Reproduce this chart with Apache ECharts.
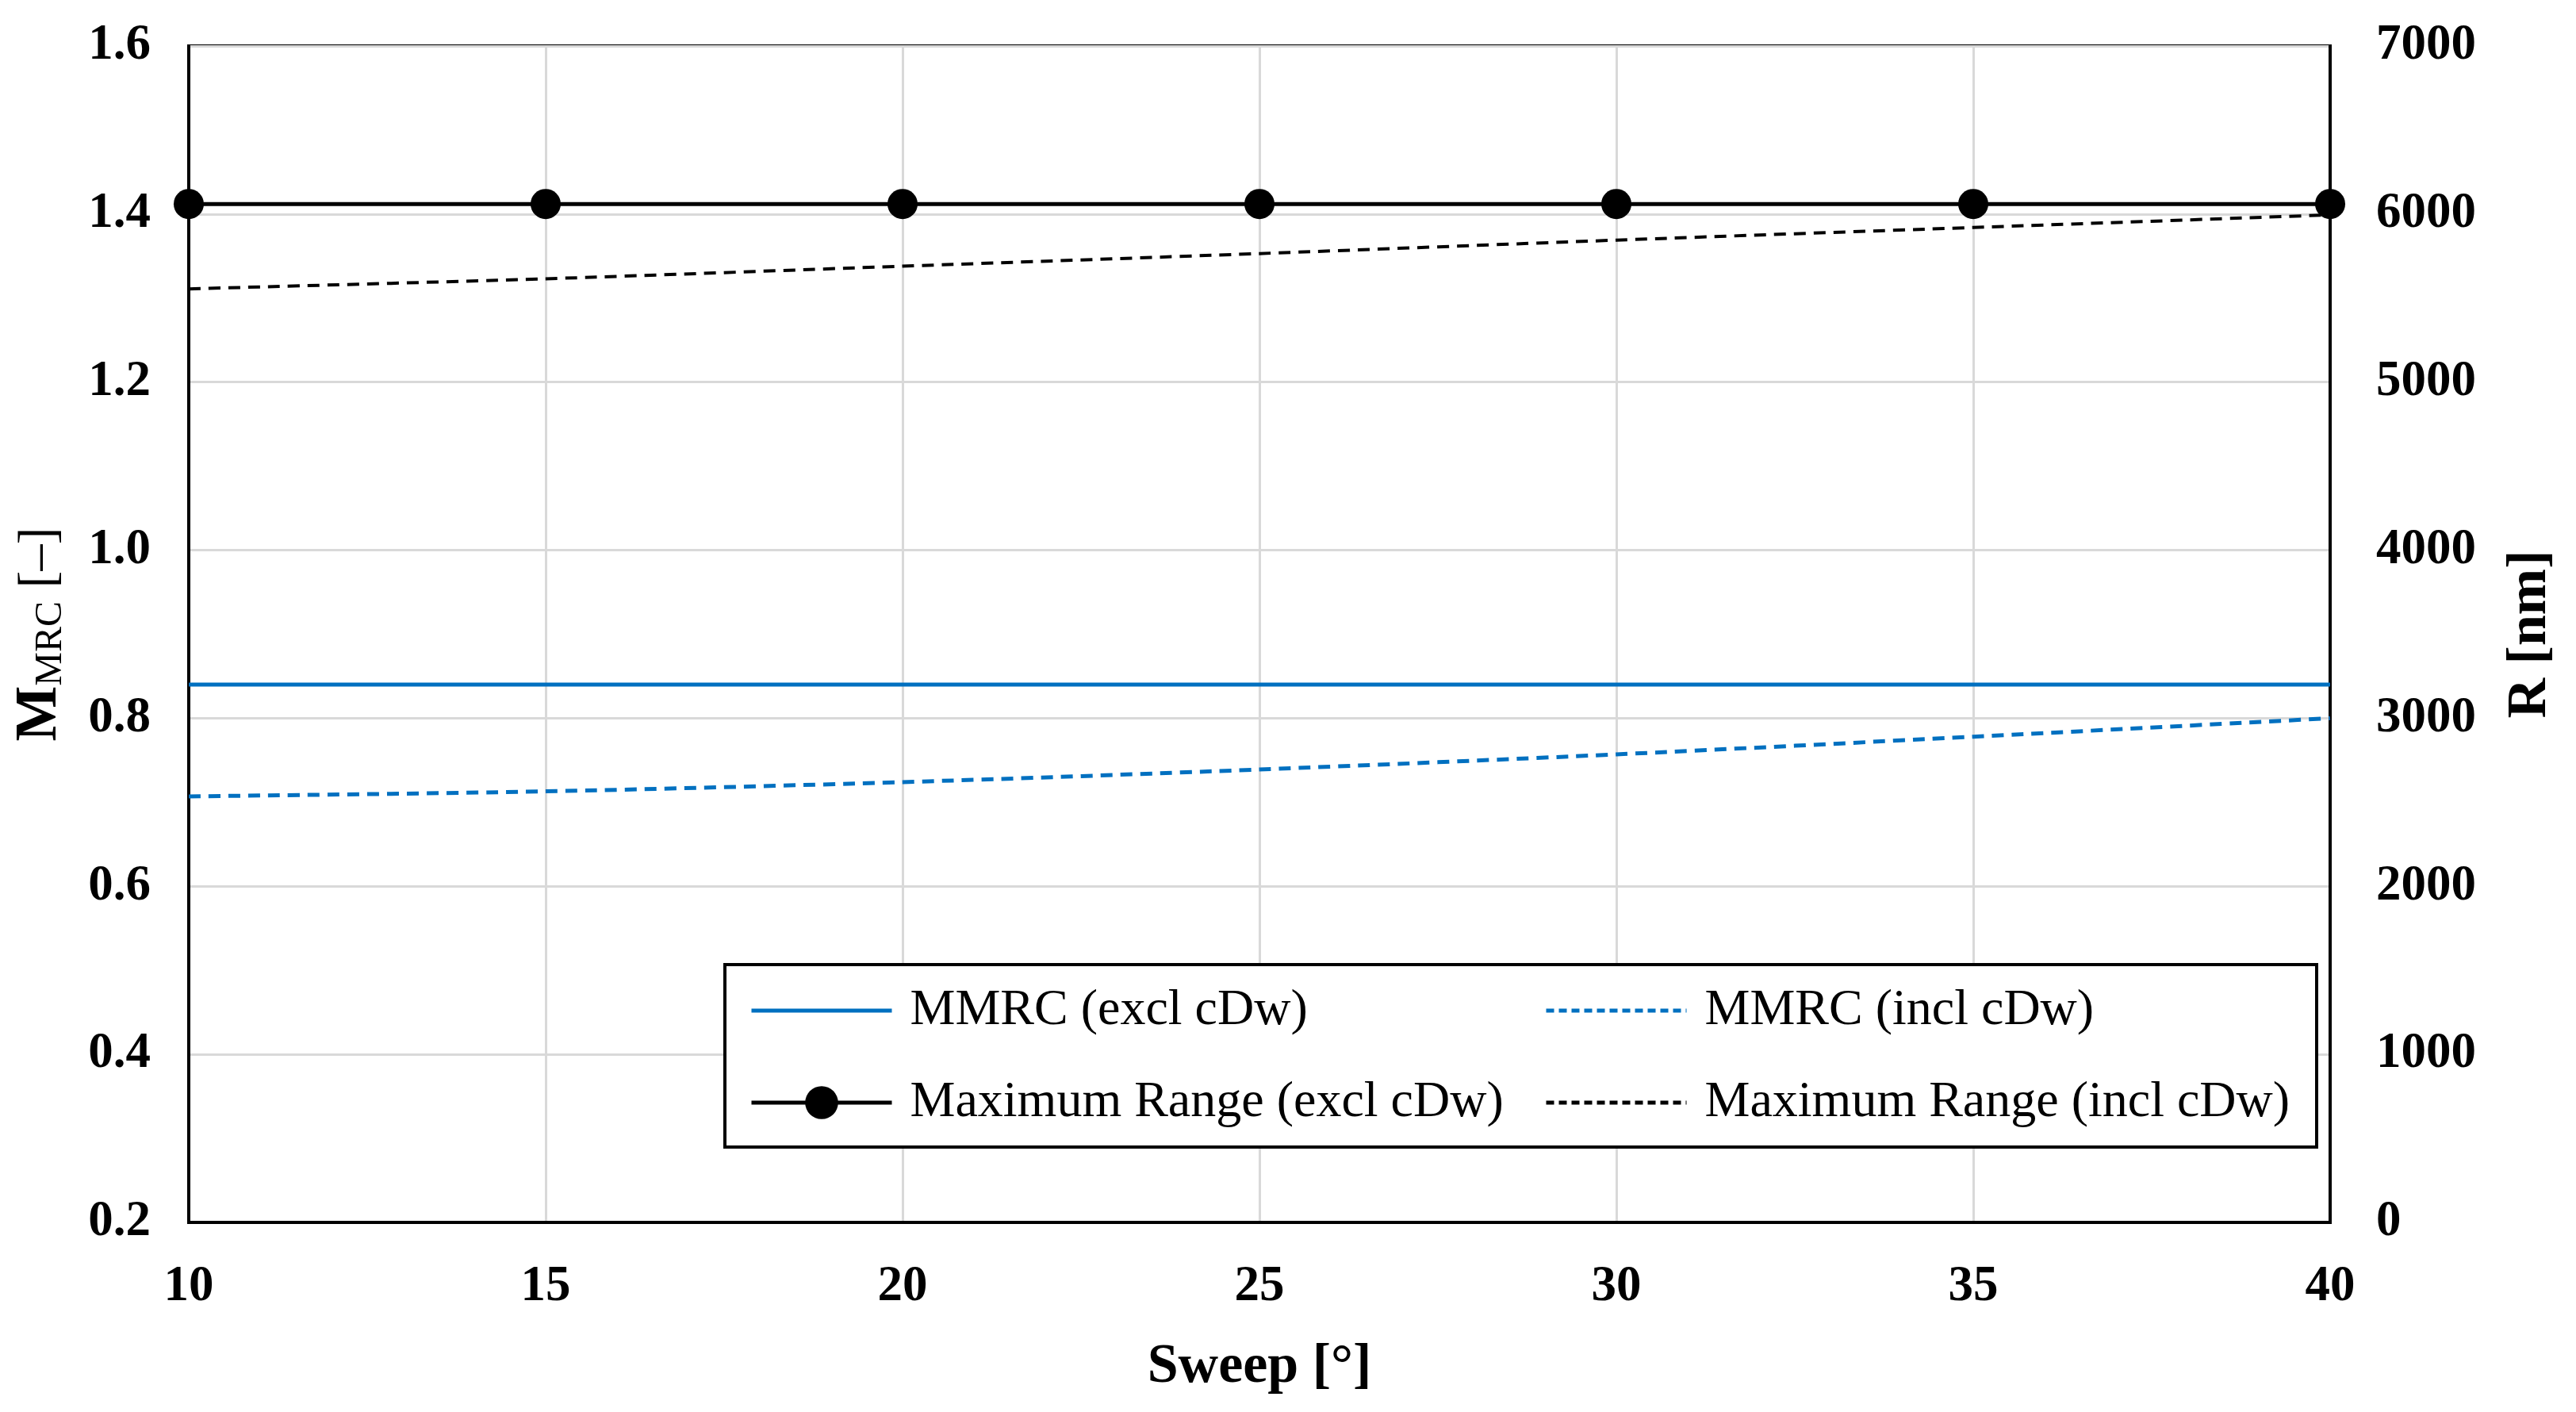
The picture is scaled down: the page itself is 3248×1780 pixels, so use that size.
<!DOCTYPE html>
<html>
<head>
<meta charset="utf-8">
<script src="https://cdn.jsdelivr.net/npm/echarts@6/dist/echarts.min.js"></script>
<style>
html,body{margin:0;padding:0;background:#fff;}
#chart{width:3248px;height:1780px;}
</style>
</head>
<body>
<div id="chart"></div>
<script>
var sweep = [10, 15, 20, 25, 30, 35, 40];
var mmrcExcl = [0.84, 0.84, 0.84, 0.84, 0.84, 0.84, 0.84];
var mmrcIncl = [0.707, 0.713, 0.724, 0.739, 0.757, 0.778, 0.800];
var rangeExcl = [6060, 6060, 6060, 6060, 6060, 6060, 6060];
var rangeIncl = [5555, 5615, 5690, 5765, 5845, 5920, 5995];
var seriesNames = ['MMRC (excl cDw)', 'MMRC (incl cDw)', 'Maximum Range (excl cDw)', 'Maximum Range (incl cDw)'];
var xTicks = {min: 10, max: 40, interval: 5};
var yLeftTicks = {min: 0.2, max: 1.6, interval: 0.2};
var yRightTicks = {min: 0, max: 7000, interval: 1000};

function pairs(xs, ys) { return xs.map(function (x, i) { return [x, ys[i]]; }); }

var FONT = 'Liberation Serif';
var BLUE = '#0070C0';

function mkLegend(name, left, top, color, dashed, hideSymbol) {
  var h = hideSymbol ? 38 : 52;
  return {
    data: [name], left: left, top: top, selectedMode: false,
    orient: 'horizontal', padding: 0, itemWidth: 177, itemHeight: h, z: 20,
    itemStyle: hideSymbol ? {opacity: 0} : {color: color},
    lineStyle: {color: color, width: 5, type: dashed ? [10, 6] : 'solid'},
    textStyle: {fontFamily: FONT, fontSize: 64, color: '#000', padding: [0, 0, 0, 18]}
  };
}

var chart = echarts.init(document.getElementById('chart'), null, {renderer: 'canvas'});
chart.setOption({
  backgroundColor: '#fff',
  animation: false,
  grid: {left: 238, right: 310, top: 58, bottom: 239, show: true, borderColor: '#000', borderWidth: 4, backgroundColor: 'transparent'},
  xAxis: {
    type: 'value', min: xTicks.min, max: xTicks.max, interval: xTicks.interval,
    name: 'Sweep [°]', nameLocation: 'middle', nameGap: 148,
    nameTextStyle: {fontFamily: FONT, fontSize: 70, fontWeight: 'bold', color: '#000'},
    axisLine: {show: true, lineStyle: {color: '#000', width: 4}},
    axisTick: {show: false},
    axisLabel: {fontFamily: FONT, fontSize: 63, fontWeight: 'bold', color: '#000', margin: 50},
    splitLine: {show: true, lineStyle: {color: '#d9d9d9', width: 3}}
  },
  yAxis: [{
    type: 'value', position: 'left', min: yLeftTicks.min, max: yLeftTicks.max, interval: yLeftTicks.interval,
    name: '{a|M}{b|MRC}{c| [–]}', nameLocation: 'middle', nameGap: 150,
    nameTextStyle: {
      color: '#000',
      rich: {
        a: {fontFamily: FONT, fontSize: 74, fontWeight: 'bold', color: '#000'},
        b: {fontFamily: FONT, fontSize: 48, color: '#000', verticalAlign: 'bottom', padding: [26, 0, 0, 0]},
        c: {fontFamily: FONT, fontSize: 66, color: '#000'}
      }
    },
    axisLine: {show: true, lineStyle: {color: '#000', width: 4}},
    axisTick: {show: false},
    axisLabel: {fontFamily: FONT, fontSize: 63, fontWeight: 'bold', color: '#000', margin: 48,
      formatter: function (v) { return v.toFixed(1); }},
    splitLine: {show: true, lineStyle: {color: '#d9d9d9', width: 3}}
  }, {
    type: 'value', position: 'right', min: yRightTicks.min, max: yRightTicks.max, interval: yRightTicks.interval,
    name: 'R [nm]', nameLocation: 'middle', nameGap: 218, nameRotate: 90,
    nameTextStyle: {fontFamily: FONT, fontSize: 70, fontWeight: 'bold', color: '#000'},
    axisLine: {show: true, lineStyle: {color: '#000', width: 4}},
    axisTick: {show: false},
    axisLabel: {fontFamily: FONT, fontSize: 63, fontWeight: 'bold', color: '#000', margin: 58,
      formatter: function (v) { return String(v); }},
    splitLine: {show: false}
  }],
  legend: [
    mkLegend(seriesNames[0], 945, 1242, BLUE, false, true),
    mkLegend(seriesNames[1], 1947, 1242, BLUE, true, true),
    mkLegend(seriesNames[2], 945, 1358, '#000', false, false),
    mkLegend(seriesNames[3], 1947, 1358, '#000', true, true)
  ],
  graphic: [{
    type: 'rect', z: 1, silent: true,
    shape: {x: 914, y: 1216, width: 2007, height: 230},
    style: {fill: '#fff', stroke: '#000', lineWidth: 4}
  }],
  series: [{
    name: seriesNames[0], type: 'line', yAxisIndex: 0, data: pairs(sweep, mmrcExcl),
    showSymbol: false, symbol: 'none', lineStyle: {color: BLUE, width: 5}, itemStyle: {color: BLUE}, z: 5
  }, {
    name: seriesNames[1], type: 'line', yAxisIndex: 0, data: pairs(sweep, mmrcIncl), smooth: 0.3,
    showSymbol: false, symbol: 'none', lineStyle: {color: BLUE, width: 5, type: [15, 10]}, itemStyle: {color: BLUE}, z: 5
  }, {
    name: seriesNames[2], type: 'line', yAxisIndex: 1, data: pairs(sweep, rangeExcl),
    symbol: 'circle', symbolSize: 38, lineStyle: {color: '#000', width: 5}, itemStyle: {color: '#000'}, z: 6
  }, {
    name: seriesNames[3], type: 'line', yAxisIndex: 1, data: pairs(sweep, rangeIncl), smooth: 0.3,
    showSymbol: false, symbol: 'none', lineStyle: {color: '#000', width: 4, type: [15, 10]}, itemStyle: {color: '#000'}, z: 5
  }]
});
</script>
</body>
</html>
